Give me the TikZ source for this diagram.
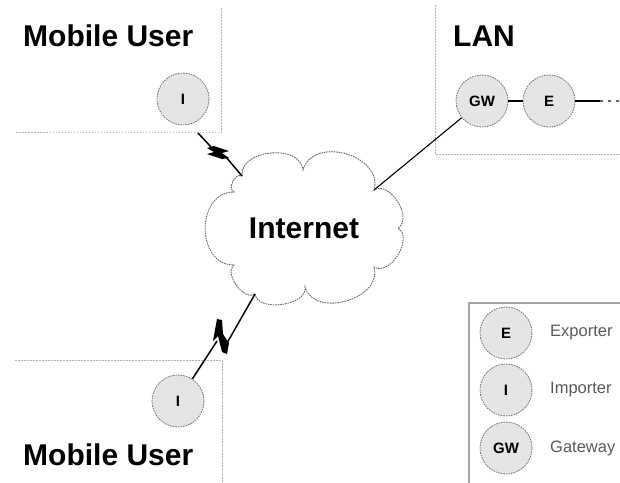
\documentclass[tikz,border=0pt]{standalone}
\usepackage{fontspec}
\setmainfont{Liberation Sans}
\begin{document}
\begin{tikzpicture}[x=1pt,y=-1pt,
  station/.style={circle, minimum size=52pt, inner sep=0pt, fill=black!10,
    draw=black!55, dash pattern=on 1.6pt off 1pt, line width=0.8pt,
    font=\fontsize{15}{15}\selectfont\bfseries},
  title/.style={font=\fontsize{30}{30}\selectfont\bfseries, anchor=base west, inner sep=0pt},
  zone/.style={draw=black!30, dash pattern=on 1.5pt off 1.5pt, line width=0.7pt},
  wire/.style={line width=1.1pt},
  boltwire/.style={line width=1.5pt},
  bolt/.style={fill=black},
  legtext/.style={font=\fontsize{16.5}{16.5}\selectfont, text=black!65, anchor=west, inner sep=0pt},
  cloudline/.style={draw=black!60, dash pattern=on 1.6pt off 0.9pt, line width=0.9pt, fill=white}]
\useasboundingbox (0,0) rectangle (620,482);

% zones
\draw[zone] (221,8) -- (221,132) -- (15,132);
\draw[zone] (435,5) -- (435,154) -- (622,154);
\draw[zone] (15,360) -- (222,360) -- (222,484);

% cloud outline points
\coordinate (J1) at (242,176);
\coordinate (J2) at (303,170);
\coordinate (J3) at (374,190);
\coordinate (J4) at (398,228);
\coordinate (J5) at (374,267);
\coordinate (J6) at (305,287);
\coordinate (J7) at (255,294);
\coordinate (J8) at (234,265);
\coordinate (J9) at (234,192);
\path[cloudline] (J1) to[bend left=90, looseness=1.12] (J2)
  to[bend left=90, looseness=1.26] (J3)
  to[bend left=90, looseness=1.05] (J4)
  to[bend left=90, looseness=1.05] (J5)
  to[bend left=90, looseness=1.18] (J6)
  to[bend left=90, looseness=0.95] (J7)
  to[bend left=90, looseness=0.95] (J8)
  to[bend left=90, looseness=1.35] (J9)
  to[bend left=90, looseness=1.1] (J1) -- cycle;
\node[font=\fontsize{30}{30}\selectfont\bfseries, anchor=base, inner sep=0pt] (internet) at (304,238) {Internet};

% titles
\node[title] (mu1) at (23,46) {Mobile User};
\node[title] (lan) at (453,46) {LAN};
\node[title] (mu2) at (23,465) {Mobile User};

% stations
\node[station] (I1) at (183,99) {I};
\node[station] (I2) at (178,401) {I};
\node[station] (GW) at (482,101) {GW};
\node[station] (E) at (549,101) {E};

% LAN links
\coordinate (tail) at (600,101);
\coordinate (tailend) at (622,101);
\draw[wire] (GW) -- (E);
\draw[wire] (E) -- (tail);
\draw[wire, black!60, dash pattern=on 3pt off 5pt] (tail) -- (tailend);
\draw[wire] (GW) -- (J3);

% upper radio link
\coordinate (B1) at (198,133);
\draw[boltwire] (B1) -- (212,148);
\fill[bolt] (207,148) -- (214,146) -- (229,151) -- (222,153) -- (229,158) -- (222,159) -- (207,154) -- (214,152) -- cycle;
\draw[boltwire] (226,157) -- (J1);

% lower radio link
\draw[boltwire] (I2) -- (217,341);
\fill[bolt] (213,341) -- (217,319) -- (222,320) -- (223,334) -- (229,343) -- (227,354) -- (222,352) -- (218,336) -- cycle;
\draw[boltwire] (227,343) -- (J7);

% legend
\draw[black!35, line width=1.2pt] (469,490) -- (469,303) -- (630,303);
\node[station] (lE) at (506,333) {E};
\node[station] (lI) at (506,390) {I};
\node[station] (lGW) at (506,448) {GW};
\node[legtext] (tE) at (550,333) {Exporter};
\node[legtext] (tI) at (550,390) {Importer};
\node[legtext] (tGW) at (550,448) {Gateway};
\end{tikzpicture}
\end{document}
